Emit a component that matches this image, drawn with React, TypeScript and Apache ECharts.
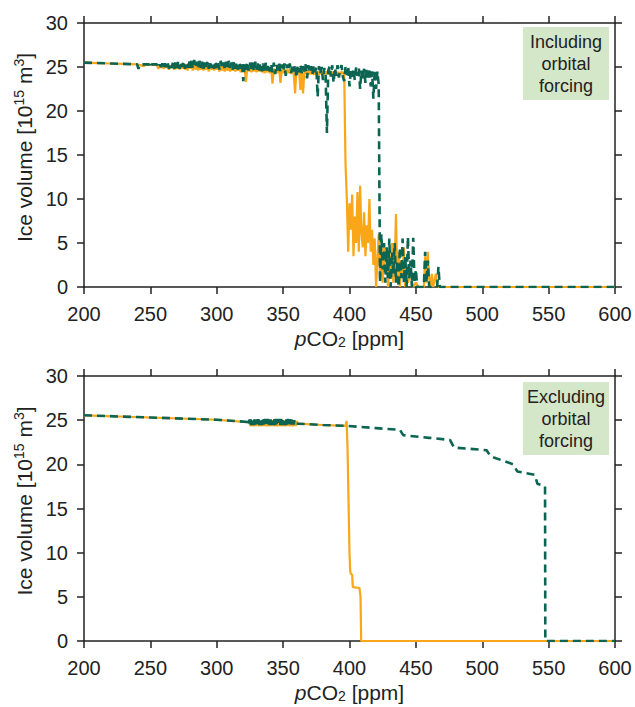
import React, { useEffect, useRef } from "react";
import * as echarts from "echarts";

// ---------- data ----------
const xTicks = [200, 250, 300, 350, 400, 450, 500, 550, 600];
const yTicks = [0, 5, 10, 15, 20, 25, 30];

// Top panel: including orbital forcing (solid orange)
const topOrange: [number, number][] = [
  [200, 25.5], [210, 25.45], [220, 25.4], [230, 25.35], [240, 25.3], [245, 25.1], [247, 25.3], [252, 25.25],
  [255, 25.2], [256, 24.8], [257, 25.2], [258, 24.9], [259, 25.1], [260, 24.8], [261, 25.2], [262, 24.9],
  [263, 25.3], [264, 24.7], [265, 25.2], [266, 24.9], [267, 25.3], [268, 24.7], [269, 25.2], [270, 24.8],
  [271, 25.4], [272, 24.7], [273, 25.3], [274, 24.8], [275, 25.4], [276, 24.7], [277, 25.3], [278, 24.6],
  [279, 25.4], [280, 24.8], [281, 25.3], [282, 24.6], [283, 25.4], [284, 24.7], [285, 25.2], [286, 24.6],
  [287, 25.3], [288, 24.7], [289, 25.2], [290, 24.6], [291, 25.3], [292, 24.7], [293, 25.2], [294, 24.5],
  [295, 25.3], [296, 24.7], [297, 25.2], [298, 24.6], [299, 25.2], [300, 24.7], [301, 25.1], [302, 24.5],
  [303, 25.2], [304, 24.6], [305, 25.1], [306, 24.5], [307, 25.2], [308, 24.6], [309, 25.0], [310, 24.5],
  [311, 25.1], [312, 24.6], [313, 25.0], [314, 24.5], [315, 25.1], [316, 24.6], [317, 25.0], [318, 24.4],
  [319, 25.0], [320, 24.5], [321, 25.0], [322, 23.3], [323, 24.9], [324, 24.5], [325, 25.0], [326, 24.4],
  [327, 24.9], [328, 24.5], [329, 25.0], [330, 24.4], [331, 24.9], [332, 24.5], [333, 24.9], [334, 24.4],
  [335, 24.9], [336, 24.3], [337, 24.8], [338, 24.4], [339, 24.9], [340, 24.3], [341, 24.8], [342, 23.1],
  [343, 24.8], [344, 24.3], [345, 24.7], [346, 24.3], [347, 24.8], [348, 23.2], [349, 24.7], [350, 24.3],
  [351, 24.8], [352, 24.2], [353, 24.7], [354, 24.3], [355, 24.8], [356, 24.2], [357, 24.7], [358, 24.3],
  [359, 22.0], [360, 24.6], [361, 24.2], [362, 24.7], [363, 22.4], [364, 24.6], [365, 22.0], [366, 24.5],
  [367, 24.2], [368, 24.6], [369, 24.1], [370, 24.6], [371, 24.2], [372, 24.5], [373, 24.1], [374, 24.6],
  [375, 24.2], [376, 24.5], [377, 24.1], [378, 24.6], [379, 24.2], [380, 24.5], [381, 24.1], [382, 24.5],
  [383, 24.2], [384, 24.6], [385, 24.1], [386, 24.5], [387, 24.2], [388, 24.5], [389, 24.1], [390, 24.5],
  [391, 24.2], [392, 24.4], [393, 24.1], [394, 24.5], [395, 24.2], [396, 24.4], [397, 14.0], [398, 10.0],
  [399, 4.0], [400, 9.5], [401, 6.5], [402, 10.5], [403, 3.5], [404, 8.0], [405, 5.0], [406, 10.8],
  [407, 4.0], [408, 11.5], [409, 6.0], [410, 4.5], [411, 8.5], [412, 3.5], [413, 7.0], [414, 5.0],
  [415, 10.0], [416, 4.0], [417, 6.5], [418, 2.5], [419, 5.5], [420, 0], [421, 3.0], [422, 6.0],
  [423, 1.0], [424, 4.5], [425, 0.5], [426, 5.0], [427, 2.0], [428, 4.0], [429, 0], [430, 3.5],
  [431, 1.0], [432, 5.0], [433, 0.5], [434, 2.0], [435, 8.3], [436, 1.0], [437, 4.0], [438, 0],
  [439, 3.0], [440, 1.5], [441, 4.5], [442, 0], [443, 2.5], [444, 0.5], [446, 1.5], [448, 0],
  [450, 0.5], [452, 0], [456, 0], [457, 3.5], [458, 0.5], [459, 4.0], [460, 1.0], [461, 0],
  [462, 1.5], [463, 0], [465, 1.5], [466, 0], [600, 0],
];

// Top panel: including orbital forcing (dashed green)
const topGreen: [number, number][] = [
  [200, 25.5], [210, 25.45], [220, 25.4], [230, 25.35], [240, 25.3], [241, 24.8], [242, 25.3], [249, 25.3],
  [250, 24.9], [251, 25.3], [255, 25.3], [256, 24.9], [257, 25.3], [258, 25.0], [259, 25.4], [260, 24.9],
  [261, 25.4], [262, 25.0], [263, 25.5], [264, 24.8], [265, 25.4], [266, 24.9], [267, 25.5], [268, 24.8],
  [269, 25.6], [270, 24.9], [271, 25.7], [272, 24.8], [273, 25.6], [274, 25.0], [275, 25.7], [276, 24.8],
  [277, 25.5], [278, 24.9], [279, 25.8], [280, 24.9], [281, 25.7], [282, 24.8], [283, 25.8], [284, 25.0],
  [285, 25.6], [286, 24.8], [287, 25.7], [288, 24.9], [289, 25.6], [290, 24.8], [291, 25.7], [292, 25.0],
  [293, 25.6], [294, 24.8], [295, 25.7], [296, 24.9], [297, 25.5], [298, 24.8], [299, 25.7], [300, 24.9],
  [301, 25.6], [302, 24.7], [303, 25.7], [304, 24.9], [305, 25.5], [306, 24.8], [307, 25.6], [308, 24.7],
  [309, 25.7], [310, 24.9], [311, 25.5], [312, 24.7], [313, 25.6], [314, 24.8], [315, 25.5], [316, 24.7],
  [317, 25.6], [318, 24.8], [319, 25.5], [320, 23.4], [321, 25.4], [322, 24.7], [323, 25.6], [324, 24.6],
  [325, 25.5], [326, 24.8], [327, 25.5], [328, 24.5], [329, 25.6], [330, 24.7], [331, 25.4], [332, 24.6],
  [333, 25.5], [334, 24.5], [335, 25.4], [336, 24.3], [337, 25.5], [338, 24.6], [339, 25.3], [340, 24.5],
  [341, 25.4], [342, 24.4], [343, 25.5], [344, 24.2], [345, 25.3], [346, 24.6], [347, 25.4], [348, 24.4],
  [349, 25.3], [350, 24.5], [351, 25.4], [352, 24.0], [353, 25.3], [354, 24.6], [355, 25.4], [356, 24.3],
  [357, 25.2], [358, 24.5], [359, 25.3], [360, 23.8], [361, 25.2], [362, 24.4], [363, 25.3], [364, 24.3],
  [365, 25.1], [366, 24.5], [367, 25.3], [368, 23.7], [369, 25.2], [370, 24.4], [371, 25.1], [372, 24.1],
  [373, 25.2], [374, 24.4], [375, 25.0], [376, 21.6], [377, 25.1], [378, 24.2], [379, 25.0], [380, 23.5],
  [381, 24.9], [382, 24.1], [383, 17.5], [384, 24.6], [385, 25.1], [386, 23.9], [387, 25.2], [388, 23.2],
  [389, 24.9], [390, 24.0], [391, 25.2], [392, 23.8], [393, 24.8], [394, 25.2], [395, 23.9], [396, 23.4],
  [397, 25.0], [398, 24.1], [399, 25.1], [400, 22.8], [401, 24.6], [402, 23.9], [403, 24.8], [404, 23.5],
  [405, 25.0], [406, 24.0], [407, 24.9], [408, 22.5], [409, 24.6], [410, 23.6], [411, 24.8], [412, 23.2],
  [413, 24.9], [414, 23.8], [415, 24.6], [416, 22.8], [417, 24.5], [418, 21.4], [419, 24.7], [420, 22.5],
  [421, 24.5], [422, 23.0], [423, 0.5], [424, 6.0], [425, 2.0], [426, 5.0], [427, 0.5], [428, 4.5],
  [429, 1.0], [430, 5.5], [431, 0], [432, 4.0], [433, 1.5], [434, 5.0], [435, 0.5], [436, 3.0],
  [437, 0], [438, 4.5], [439, 1.0], [440, 5.5], [441, 0.5], [442, 3.5], [443, 0], [444, 5.7],
  [445, 1.0], [446, 3.0], [447, 0], [448, 5.6], [449, 0.5], [450, 2.0], [451, 0], [456, 0],
  [457, 4.0], [458, 0.5], [459, 3.0], [460, 0], [466, 0], [467, 2.3], [468, 0], [600, 0],
];

// Bottom panel: excluding orbital forcing (solid orange)
const bottomOrange: [number, number][] = [
  [200, 25.55], [250, 25.3], [300, 25.05], [325, 24.75], [325.5, 24.3], [326.5, 24.95], [327.5, 24.3], [328.5, 24.9],
  [329.5, 24.35], [330.5, 24.95], [331.5, 24.3], [332.5, 24.9], [333.5, 24.3], [334.5, 24.95], [335.5, 24.35], [336.5, 24.9],
  [337.5, 24.3], [338.5, 24.95], [339.5, 24.3], [340.5, 24.9], [341.5, 24.35], [342.5, 24.95], [343.5, 24.3], [344.5, 24.9],
  [345.5, 24.3], [346.5, 24.95], [347.5, 24.35], [348.5, 24.9], [349.5, 24.3], [350.5, 24.95], [351.5, 24.3], [352.5, 24.9],
  [353.5, 24.35], [354.5, 24.95], [355.5, 24.3], [356.5, 24.9], [357.5, 24.3], [358.5, 24.95], [359.5, 24.35], [360.5, 24.9],
  [361, 24.6], [380, 24.45], [397, 24.35], [397.8, 24.9], [398.5, 22.0], [399, 18.0], [399.5, 14.0], [400, 10.0],
  [400.5, 8.0], [401, 7.6], [402, 7.5], [402.5, 6.1], [407.5, 6.0], [408.3, 5.0], [408.8, 0], [600, 0],
];

// Bottom panel: excluding orbital forcing (dashed green)
const bottomGreen: [number, number][] = [
  [200, 25.55], [250, 25.3], [300, 25.05], [323.5, 24.8], [324, 24.45], [324.5, 25.05], [325, 24.5], [325.5, 25.1],
  [326, 24.45], [326.5, 25.05], [327, 24.5], [327.5, 25.1], [328, 24.45], [328.5, 25.1], [329, 24.5], [329.5, 25.05],
  [330, 24.45], [330.5, 25.1], [331, 24.5], [331.5, 25.1], [332, 24.45], [332.5, 25.05], [333, 24.5], [333.5, 25.15],
  [334, 24.45], [334.5, 25.1], [335, 24.5], [335.5, 25.1], [336, 24.45], [336.5, 25.15], [337, 24.5], [337.5, 25.1],
  [338, 24.45], [338.5, 25.15], [339, 24.5], [339.5, 25.1], [340, 24.45], [340.5, 25.15], [341, 24.5], [341.5, 25.1],
  [342, 24.45], [342.5, 25.15], [343, 24.5], [343.5, 25.1], [344, 24.45], [344.5, 25.15], [345, 24.5], [345.5, 25.1],
  [346, 24.45], [346.5, 25.15], [347, 24.5], [347.5, 25.1], [348, 24.45], [348.5, 25.15], [349, 24.5], [349.5, 25.1],
  [350, 24.45], [350.5, 25.15], [351, 24.5], [351.5, 25.1], [352, 24.45], [352.5, 25.1], [353, 24.5], [353.5, 25.15],
  [354, 24.45], [354.5, 25.1], [355, 24.5], [355.5, 25.1], [356, 24.45], [356.5, 25.05], [357, 24.5], [357.5, 25.1],
  [358, 24.5], [358.5, 25.0], [359, 24.6], [361, 24.6], [380, 24.45], [398, 24.35], [420, 24.1], [438, 23.9],
  [440.5, 23.3], [460, 23.0], [475.7, 22.76], [478.7, 21.9], [503.3, 21.6], [506.3, 20.9], [523.4, 20.0], [526.4, 19.2],
  [539.7, 18.8], [541.5, 17.8], [547.3, 17.5], [547.5, 0], [600, 0],
];

const panelLabels = ["Including\norbital\nforcing", "Excluding\norbital\nforcing"];

// ---------- styles ----------
const ORANGE = "#f9a619";
const GREEN = "#0b6552";
const AXIS = "#222222";
const FONT = "Liberation Sans, Arial, sans-serif";

export default function App() {
  const ref = useRef<HTMLDivElement>(null);

  useEffect(() => {
    if (!ref.current) return;
    const chart = echarts.init(ref.current, undefined, { renderer: "svg" });

    const grids = [
      { left: 84, top: 23, width: 531, height: 264, outerBoundsMode: "none", containLabel: false },
      { left: 84, top: 376, width: 531, height: 265, outerBoundsMode: "none", containLabel: false },
    ];

    const axisLine = { show: true, onZero: false, lineStyle: { color: AXIS, width: 1.5 } };
    const axisTick = { show: true, inside: false, length: 7, lineStyle: { color: AXIS, width: 1.5 } };
    const labelStyle = { color: AXIS, fontSize: 20, fontFamily: FONT };

    const xAxes: any[] = [];
    const yAxes: any[] = [];
    [0, 1].forEach((g) => {
      xAxes.push({
        type: "value", gridIndex: g, position: "bottom", min: xTicks[0], max: xTicks[xTicks.length - 1], interval: 50,
        axisLine, axisTick, splitLine: { show: false },
        axisLabel: { ...labelStyle, margin: 17 },
        name: "{i|p}{n|CO}{sub|2}{n| [ppm]}", nameLocation: "middle", nameGap: 41,
        nameTextStyle: {
          rich: {
            i: { fontStyle: "italic", fontSize: 21, fontFamily: FONT, color: AXIS, lineHeight: 21 },
            n: { fontSize: 21, fontFamily: FONT, color: AXIS, lineHeight: 21 },
            sub: { fontSize: 14, fontFamily: FONT, color: AXIS, verticalAlign: "bottom", lineHeight: 14 },
          },
        },
      });
      xAxes.push({
        type: "value", gridIndex: g, position: "top", min: xTicks[0], max: xTicks[xTicks.length - 1], interval: 50,
        axisLine, axisTick, splitLine: { show: false }, axisLabel: { show: false },
      });
      yAxes.push({
        type: "value", gridIndex: g, position: "left", min: yTicks[0], max: yTicks[yTicks.length - 1], interval: 5,
        axisLine, axisTick, splitLine: { show: false },
        axisLabel: { ...labelStyle, margin: 16 },
        name: "{n|Ice volume [10}{sup|15}{n| m}{sup|3}{n|]}", nameLocation: "middle", nameRotate: 90, nameGap: 47,
        nameTextStyle: {
          padding: [0, 0, 0, 15],
          rich: {
            n: { fontSize: 21, fontFamily: FONT, color: AXIS, lineHeight: 24 },
            sup: { fontSize: 14, fontFamily: FONT, color: AXIS, verticalAlign: "top", lineHeight: 14 },
          },
        },
      });
      yAxes.push({
        type: "value", gridIndex: g, position: "right", min: yTicks[0], max: yTicks[yTicks.length - 1], interval: 5,
        axisLine, axisTick, splitLine: { show: false }, axisLabel: { show: false },
      });
    });

    const mk = (data: [number, number][], g: number, color: string, dashed: boolean, z: number) => ({
      type: "line",
      xAxisIndex: g * 2,
      yAxisIndex: g * 2,
      data,
      showSymbol: false,
      symbol: "none",
      z,
      lineStyle: dashed
        ? { color, width: 2.6, type: [8, 5] }
        : { color, width: 2.2 },
    });

    const boxes = [
      { x: 523, y: 27, h: 73 },
      { x: 523, y: 382, h: 73 },
    ];

    chart.setOption({
      animation: false,
      grid: grids,
      xAxis: xAxes,
      yAxis: yAxes,
      series: [
        mk(topOrange, 0, ORANGE, false, 2),
        mk(topGreen, 0, GREEN, true, 3),
        mk(bottomOrange, 1, ORANGE, false, 2),
        mk(bottomGreen, 1, GREEN, true, 3),
      ],
      graphic: boxes.map((b, i) => ({
        type: "group",
        x: b.x,
        y: b.y,
        children: [
          { type: "rect", shape: { x: 0, y: 0, width: 86, height: b.h }, style: { fill: "#d4e7c9" } },
          {
            type: "text",
            x: 43,
            y: b.h / 2,
            style: {
              text: panelLabels[i],
              fill: AXIS,
              font: `18px ${FONT}`,
              align: "center",
              verticalAlign: "middle",
              lineHeight: 22,
            },
          },
        ],
      })),
    });

    return () => chart.dispose();
  }, []);

  return (
    <div
      ref={ref}
      style={{ position: "fixed", left: 0, top: 0, width: 635, height: 707, background: "#fff" }}
    />
  );
}
